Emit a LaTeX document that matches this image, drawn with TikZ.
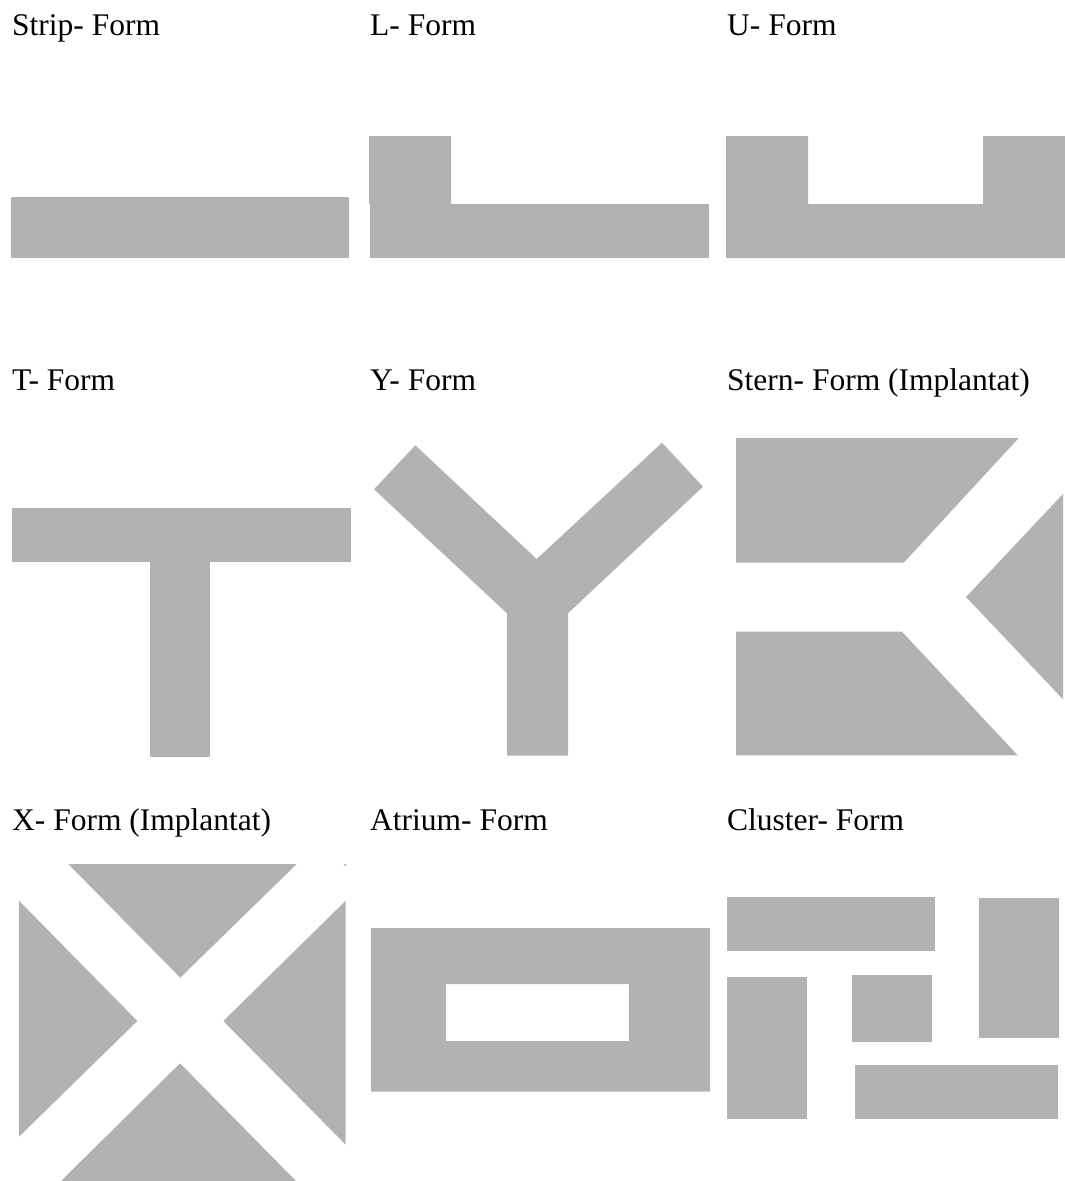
\documentclass[tikz,border=0pt]{standalone}
\usepackage{fontspec}
\setmainfont{Liberation Serif}
\definecolor{shapegray}{RGB}{178,178,178}
\begin{document}
\begin{tikzpicture}[x=1pt,y=-1pt,
  lbl/.style={anchor=base west,inner sep=0pt,font=\fontsize{31.5}{36}\selectfont},
  blk/.style={fill=shapegray,draw=none}]
\useasboundingbox (0,0) rectangle (1065,1181);
% labels
\node[lbl] (tstrip) at (12,35) {Strip- Form};
\node[lbl] (tl) at (370,35) {L- Form};
\node[lbl] (tu) at (727,35) {U- Form};
\node[lbl] (tt) at (12,390) {T- Form};
\node[lbl] (ty) at (370,390) {Y- Form};
\node[lbl] (tstern) at (727,390) {Stern- Form (Implantat)};
\node[lbl] (tx) at (12,830) {X- Form (Implantat)};
\node[lbl] (tatrium) at (370,830) {Atrium- Form};
\node[lbl] (tcluster) at (727,830) {Cluster- Form};
% Strip
\fill[blk] (11,197) rectangle (349,258);
% L
\fill[blk] (369,136) rectangle (451,204);
\fill[blk] (370,204) rectangle (709,258);
% U
\fill[blk] (726,136) -- (808,136) -- (808,204) -- (983,204) -- (983,136) -- (1065,136) -- (1065,258) -- (726,258) -- cycle;
% T
\fill[blk] (12,508) rectangle (351,562);
\fill[blk] (150,561) rectangle (210,757);
% Y
\fill[blk] (415.3,445.3) -- (536.7,559) -- (662,442.7) -- (703,486.7) -- (568,613.3) -- (568,755.7) -- (507,755.7) -- (507,613.3) -- (374,489.3) -- cycle;
% Stern
\fill[blk] (736,438) -- (1018.7,438) -- (903.7,562.7) -- (736,562.7) -- cycle;
\fill[blk] (736,631.7) -- (902,631.7) -- (1017.7,755.3) -- (736,755.3) -- cycle;
\fill[blk] (1063,494) -- (966,597) -- (1063,699.3) -- cycle;
% X
\fill[blk] (68.3,864) -- (296.7,864) -- (180.3,977.7) -- cycle;
\fill[blk] (345.7,900.7) -- (223.3,1021) -- (345.7,1144.7) -- cycle;
\fill[blk] (19,900.7) -- (137.3,1021) -- (19,1136.7) -- cycle;
\fill[blk] (180,1063.3) -- (61,1181) -- (296,1181) -- cycle;
\fill[blk] (343.5,864) -- (346,864) -- (346,866.5) -- cycle;
% Atrium
\fill[blk,even odd rule] (371,928) rectangle (710,1091.7) (446,984) rectangle (629,1041);
% Cluster
\fill[blk] (727,897) rectangle (935,950.7);
\fill[blk] (979,898) rectangle (1059,1037.7);
\fill[blk] (727,977) rectangle (807,1118.7);
\fill[blk] (852,975) rectangle (932,1041.7);
\fill[blk] (855,1065) rectangle (1058,1118.7);
\end{tikzpicture}
\end{document}
